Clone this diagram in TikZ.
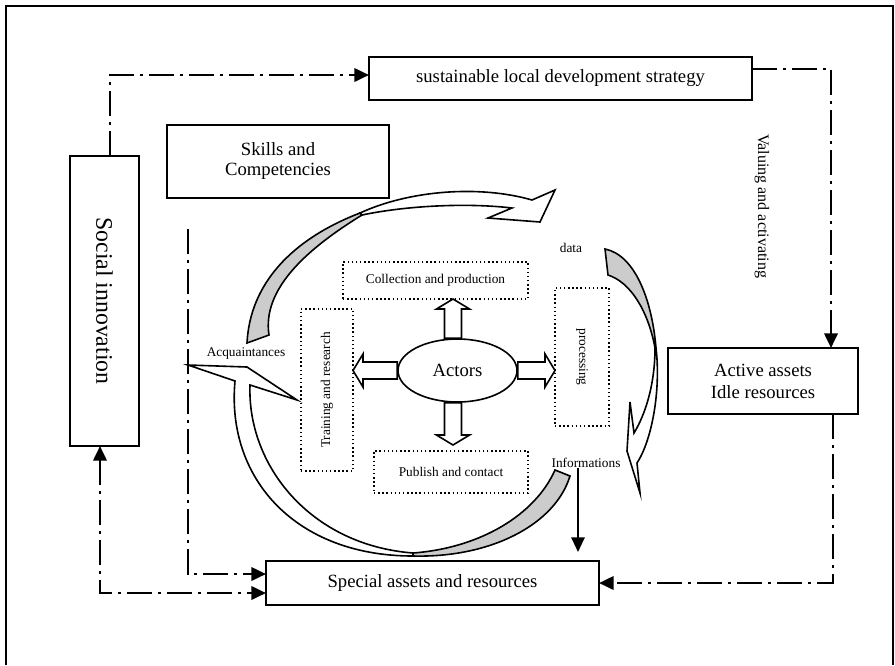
\documentclass[tikz,border=0pt]{standalone}
\usepackage{fontspec}
\setmainfont{Liberation Serif}
\usepackage{graphicx}
\usetikzlibrary{shapes.geometric,arrows.meta,calc,positioning}

\tikzset{
  box/.style={draw, line width=1.4pt, inner sep=0pt, outer sep=0pt, align=center, font=\fontsize{14}{15}\selectfont},
  dotbox/.style={draw, dotted, line width=1.1pt, inner sep=0pt, outer sep=0pt, font=\fontsize{10}{12}\selectfont},
  lbl/.style={inner sep=0pt, font=\fontsize{10}{12}\selectfont},
  tip/.style={-{Triangle[length=11pt,width=10pt]}},
  dasharr/.style={line width=2pt, dash pattern=on 19pt off 4.5pt on 2pt off 4.5pt, tip},
  blockarr/.style={draw, fill=white, line width=1.2pt, line join=miter},
  twist/.style={draw, line width=1.2pt, line join=miter},
}

% white block arrow from #1 to #2
\newcommand{\blockarrow}[2]{%
  \draw[blockarr] let \p1=(#1), \p2=(#2), \n1={atan2(\y2-\y1,\x2-\x1)}, \n2={veclen(\x2-\x1,\y2-\y1)} in
    [shift={(\p1)}, rotate=\n1] (0pt,-6.4pt) -- ({(\n2-7.5)*1pt},-6.4pt) -- ({(\n2-7.5)*1pt},-12.4pt)
    -- ({\n2*1pt},0pt) -- ({(\n2-7.5)*1pt},12.4pt) -- ({(\n2-7.5)*1pt},6.4pt) -- (0pt,6.4pt) -- cycle;}

\begin{document}
\begin{tikzpicture}[x=0.75pt, y=-0.75pt]
\useasboundingbox (0,0) rectangle (895,665);
\draw[line width=1.8pt] (6,665) -- (6,6) -- (893,6) -- (893,665);

% main boxes
\node[box, minimum width=287.25pt, minimum height=32.25pt] (strat) at (560.5,78.5) {sustainable local development strategy};
\node[box, minimum width=166.5pt, minimum height=54.75pt] (skills) at (278,161.5) {Skills and\\Competencies};
\node[box, minimum width=51.75pt, minimum height=217.5pt] (social) at (104.5,301) {\rotatebox{-90}{\fontsize{17.8}{20}\selectfont Social innovation}};
\node[box, minimum width=142.5pt, minimum height=49.5pt, font=\fontsize{14}{16.5}\selectfont] (active) at (763,381) {Active assets\\Idle resources};
\node[box, minimum width=249.75pt, minimum height=33pt] (special) at (432.5,583) {Special assets and resources};

% inner cycle
\node[dotbox, minimum width=138.75pt, minimum height=27.75pt] (coll) at (435.5,280.5) {Collection and production};
\node[dotbox, minimum width=40.5pt, minimum height=103.5pt] (proc) at (582,357) {\rotatebox{-90}{processing}};
\node[dotbox, minimum width=39pt, minimum height=121.5pt] (train) at (327,390) {\rotatebox{90}{Training and research}};
\node[dotbox, minimum width=115.5pt, minimum height=31.5pt] (pub) at (451,472) {Publish and contact};
\node[draw, ellipse, line width=1.2pt, minimum width=89.25pt, minimum height=47.25pt, inner sep=0pt,
      font=\fontsize{14}{17}\selectfont] (act) at (457.5,370.5) {Actors};

\node[lbl] (data) at (571,248) {data};
\node[lbl] (acq) at (246,353) {Acquaintances};
\node[lbl] (info) at (586,463) {Informations};
\node[lbl, font=\fontsize{12}{14}\selectfont, rotate=-90] (valu) at (762,206) {Valuing and activating};

% block arrows
\coordinate (un) at ($(act.north)+(-4.5,0)$);
\coordinate (dn) at ($(act.south)+(-4.5,0)$);
\blockarrow{un}{coll.south -| un}
\blockarrow{dn}{$(pub.north -| dn)+(0,-6)$}
\blockarrow{act.west}{train.east |- act.west}
\blockarrow{act.east}{proc.west |- act.east}

% curved arrows
\draw[twist, fill=black!20] (247,343) .. controls (250,285) and (290,240) .. (360,213) -- (362,215)
  .. controls (305,250) and (262,290) .. (269,335) -- cycle;
\draw[twist, fill=white] (360,213) .. controls (410,190) and (480,185) .. (532,200) -- (555,190) -- (540,222)
  -- (488,218) -- (512,208) .. controls (470,203) and (410,205) .. (362,215) -- cycle;

\draw[twist, fill=black!20] (605,249) -- (608,275) .. controls (630,282) and (648,310) .. (655,348) -- (656,348)
  .. controls (652,300) and (635,255) .. (605,249) -- cycle;
\draw[twist, fill=white] (656,348) .. controls (661,390) and (652,440) .. (637,463) -- (640,493) -- (627,451)
  -- (630,402) -- (634,433) .. controls (645,415) and (655,385) .. (655,348) -- cycle;

\draw[twist, fill=black!20] (570,476) .. controls (555,525) and (490,558) .. (413,556) -- (413,553)
  .. controls (480,548) and (535,515) .. (555,470) -- cycle;
\draw[twist, fill=white] (413,556) .. controls (295,556) and (226,478) .. (235,381) -- (188,365) -- (247,367)
  -- (297,400) -- (250,385) .. controls (247,465) and (310,545) .. (413,553) -- cycle;

% links
\coordinate (acqline) at (188,229);
\draw[dasharr] ($(social.north)+(5.5,0)$) |- ($(strat.west)+(0,-3.5)$);
\draw[dasharr] ($(strat.east)+(0,-9.5)$) -| ($(active.north)+(68,0)$);
\draw[dasharr] ($(active.south)+(70,0)$) |- (special.east);
\draw[dasharr] (acqline) |- ($(special.west)+(0,-9)$);
\draw[dasharr, {Triangle[length=11pt,width=10pt]}-{Triangle[length=11pt,width=10pt]}] ($(social.south)+(-4.5,0)$) |- ($(special.west)+(0,10)$);
\coordinate (infot) at ($(info.south)+(-8,0)$);
\draw[line width=1.5pt, tip, shorten >=6.75pt] (infot) -- (infot |- special.north);
\end{tikzpicture}
\end{document}
